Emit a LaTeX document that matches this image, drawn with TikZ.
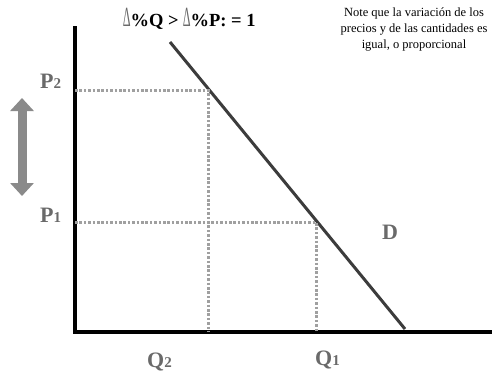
\documentclass[tikz,border=0pt]{standalone}
\usepackage{fontspec}
\setmainfont{Liberation Serif}
\usetikzlibrary{arrows.meta,positioning,calc}

\definecolor{labelgray}{HTML}{6A6A6A}
\definecolor{dotgray}{HTML}{A0A0A0}
\definecolor{arrowgray}{HTML}{8A8A8A}
\definecolor{curvegray}{HTML}{3C3C3C}

\newcommand{\deltasign}{{\mdseries\color{labelgray}\scalebox{0.65}[1.5]{∆}}}

\begin{document}
\begin{tikzpicture}[
    x=1pt, y=-1pt,
    axis/.style={draw=black, line width=4.5pt},
    demand/.style={draw=curvegray, line width=3pt},
    guide/.style={draw=dotgray, line width=3pt, dash pattern=on 2.6pt off 1.8pt},
    axislabel/.style={font=\fontsize{22}{24}\selectfont\bfseries, text=labelgray, inner sep=0pt},
    note/.style={font=\fontsize{12.5}{16}\selectfont, align=center, inner sep=0pt}
  ]
  \useasboundingbox (0,0) rectangle (492,380);
  % axes
  \coordinate (origin) at (75,332);
  \coordinate (ytop) at (75,26);
  \coordinate (xend) at (492,332);
  \draw[axis] (ytop) -- (origin.center) -- (xend);
  % demand curve and the two points on it
  \coordinate (dtop) at (170,42);
  \coordinate (dbot) at (405,329);
  \draw[demand] (dtop) -- (dbot);
  \coordinate (pt2) at (208,90);
  \coordinate (pt1) at (316,222);
  \draw[guide] (origin |- pt2) -- (pt2) -- (pt2 |- origin);
  \draw[guide] (origin |- pt1) -- (pt1) -- (pt1 |- origin);
  % labels
  \node[axislabel, anchor=base west] (p2) at (40,88) {P{\fontsize{15}{15}\selectfont 2}};
  \node[axislabel, anchor=base west] (p1) at (40,222) {P{\fontsize{15}{15}\selectfont 1}};
  \node[axislabel, anchor=base west] (q2) at (147,367) {Q{\fontsize{15}{15}\selectfont 2}};
  \node[axislabel, anchor=base west] (q1) at (315,365) {Q{\fontsize{15}{15}\selectfont 1}};
  \node[axislabel, anchor=base] (dlab) at (390,239) {D};
  % price change arrow
  \coordinate (arrtop) at (22,98);
  \coordinate (arrbot) at (22,196);
  \draw[draw=arrowgray, line width=9pt, {Triangle[width=23pt,length=13pt]}-{Triangle[width=23pt,length=13pt]}] (arrtop) -- (arrbot);
  % title and note
  \node[font=\fontsize{18.5}{20}\selectfont\bfseries, anchor=base west, inner sep=0pt] (title) at (123,27)
    {\deltasign\%Q > \deltasign\%P: = 1};
  \node[note, anchor=north] (remark) at (414,8)
    {Note que la variación de los\\precios y de las cantidades es\\igual, o proporcional};
\end{tikzpicture}
\end{document}
